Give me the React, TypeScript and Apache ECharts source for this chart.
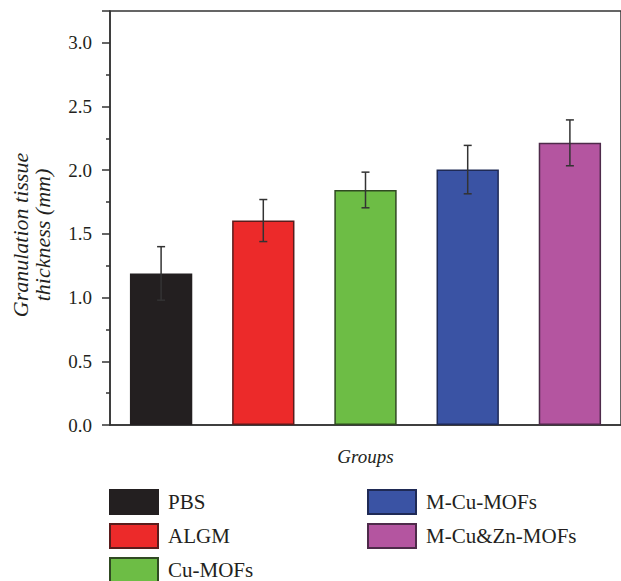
import React, { useEffect, useRef } from "react";
import * as echarts from "echarts";

const categories = ["PBS", "ALGM", "Cu-MOFs", "M-Cu-MOFs", "M-Cu&Zn-MOFs"];
const means = [1.19, 1.605, 1.845, 2.005, 2.215];
const errors = [0.21, 0.165, 0.14, 0.19, 0.18];
const colors = ["#231f20", "#ec2a2a", "#6dbd45", "#3a53a4", "#b455a0"];
const borderColors = ["#231f20", "#5a1c1c", "#304a22", "#1f2a55", "#4e2a4a"];
const yTicks = { min: 0, max: 3.25, interval: 0.5 };
const yTitle = "Granulation tissue\nthickness (mm)";
const xTitle = "Groups";

const FONT = "'Liberation Serif', 'DejaVu Serif', serif";
const INK = "#231f20";

// legend slots: [left, top]
const legendSlots = [
  [109, 489],
  [109, 523],
  [109, 557],
  [367, 489],
  [367, 523],
];

export default function App() {
  const ref = useRef<HTMLDivElement>(null);
  useEffect(() => {
    if (!ref.current) return;
    const chart = echarts.init(ref.current, undefined, { renderer: "svg" });
    const barSeries = categories.map((name, i) => ({
      name,
      type: "bar",
      stack: "total",
      barWidth: "61%",
      data: categories.map((_, j) => (j === i ? means[i] : "-")),
      itemStyle: { color: colors[i], borderColor: borderColors[i], borderWidth: 1.5 },
      z: 2,
    }));
    const errData = categories.map((_, i) => [i, means[i] - errors[i], means[i] + errors[i]]);
    chart.setOption({
      animation: false,
      backgroundColor: "#fff",
      grid: {
        left: 110,
        top: 11,
        width: 515,
        height: 414,
        show: true,
        borderColor: "#333",
        borderWidth: 1.5,
        backgroundColor: "transparent",
      },
      graphic: [
        {
          type: "text",
          x: 31,
          y: 235,
          rotation: Math.PI / 2,
          style: {
            text: yTitle,
            font: `italic 22px ${FONT}`,
            fill: INK,
            align: "center",
            verticalAlign: "middle",
            lineHeight: 22,
          },
        },
      ],
      xAxis: [
        {
          type: "category",
          data: categories,
          name: xTitle,
          nameLocation: "middle",
          nameGap: 22,
          nameTextStyle: { fontFamily: FONT, fontStyle: "italic", fontSize: 19, color: INK },
          axisLine: { lineStyle: { color: "#333", width: 1.5 } },
          axisTick: { alignWithLabel: true, length: 8, lineStyle: { color: "#333", width: 1.5 } },
          axisLabel: { show: false },
          splitLine: { show: false },
        },
        {
          type: "category",
          data: categories,
          position: "bottom",
          axisLine: { show: false },
          axisTick: { length: 4, lineStyle: { color: "#333", width: 1.5 } },
          axisLabel: { show: false },
          splitLine: { show: false },
        },
      ],
      yAxis: {
        type: "value",
        min: yTicks.min,
        max: yTicks.max,
        interval: yTicks.interval,
        axisLine: { show: true, lineStyle: { color: "#333", width: 1.5 } },
        axisTick: { show: true, length: 8, lineStyle: { color: "#333", width: 1.5 } },
        minorTick: { show: true, splitNumber: 2, length: 4, lineStyle: { color: "#333", width: 1.5 } },
        axisLabel: {
          fontFamily: FONT,
          fontSize: 19,
          color: INK,
          margin: 18,
          formatter: (v: number) => (v > 3.01 ? "" : v.toFixed(1)),
        },
        splitLine: { show: false },
      },
      legend: categories.map((name, i) => ({
        left: legendSlots[i][0],
        top: legendSlots[i][1],
        padding: 0,
        orient: "vertical",
        itemWidth: 48,
        itemHeight: 24,
        icon: "rect",
        data: [name],
        textStyle: { fontFamily: FONT, fontSize: 21, color: INK, padding: [0, 0, 0, 5] },
        selectedMode: false,
      })),
      series: [
        ...barSeries,
        {
          type: "custom",
          name: "error",
          z: 5,
          data: errData,
          renderItem: (params: any, api: any) => {
            const x = api.value(0);
            const lo = api.coord([x, api.value(1)]);
            const hi = api.coord([x, api.value(2)]);
            const w = 4;
            const style = { stroke: "#333", lineWidth: 1.5 };
            return {
              type: "group",
              children: [
                { type: "line", shape: { x1: lo[0], y1: lo[1], x2: hi[0], y2: hi[1] }, style },
                { type: "line", shape: { x1: hi[0] - w, y1: hi[1], x2: hi[0] + w, y2: hi[1] }, style },
                { type: "line", shape: { x1: lo[0] - w, y1: lo[1], x2: lo[0] + w, y2: lo[1] }, style },
              ],
            };
          },
        },
      ],
    });
    return () => chart.dispose();
  }, []);
  return (
    <div
      ref={ref}
      style={{ position: "fixed", left: 0, top: 0, width: 621, height: 581 }}
    />
  );
}
